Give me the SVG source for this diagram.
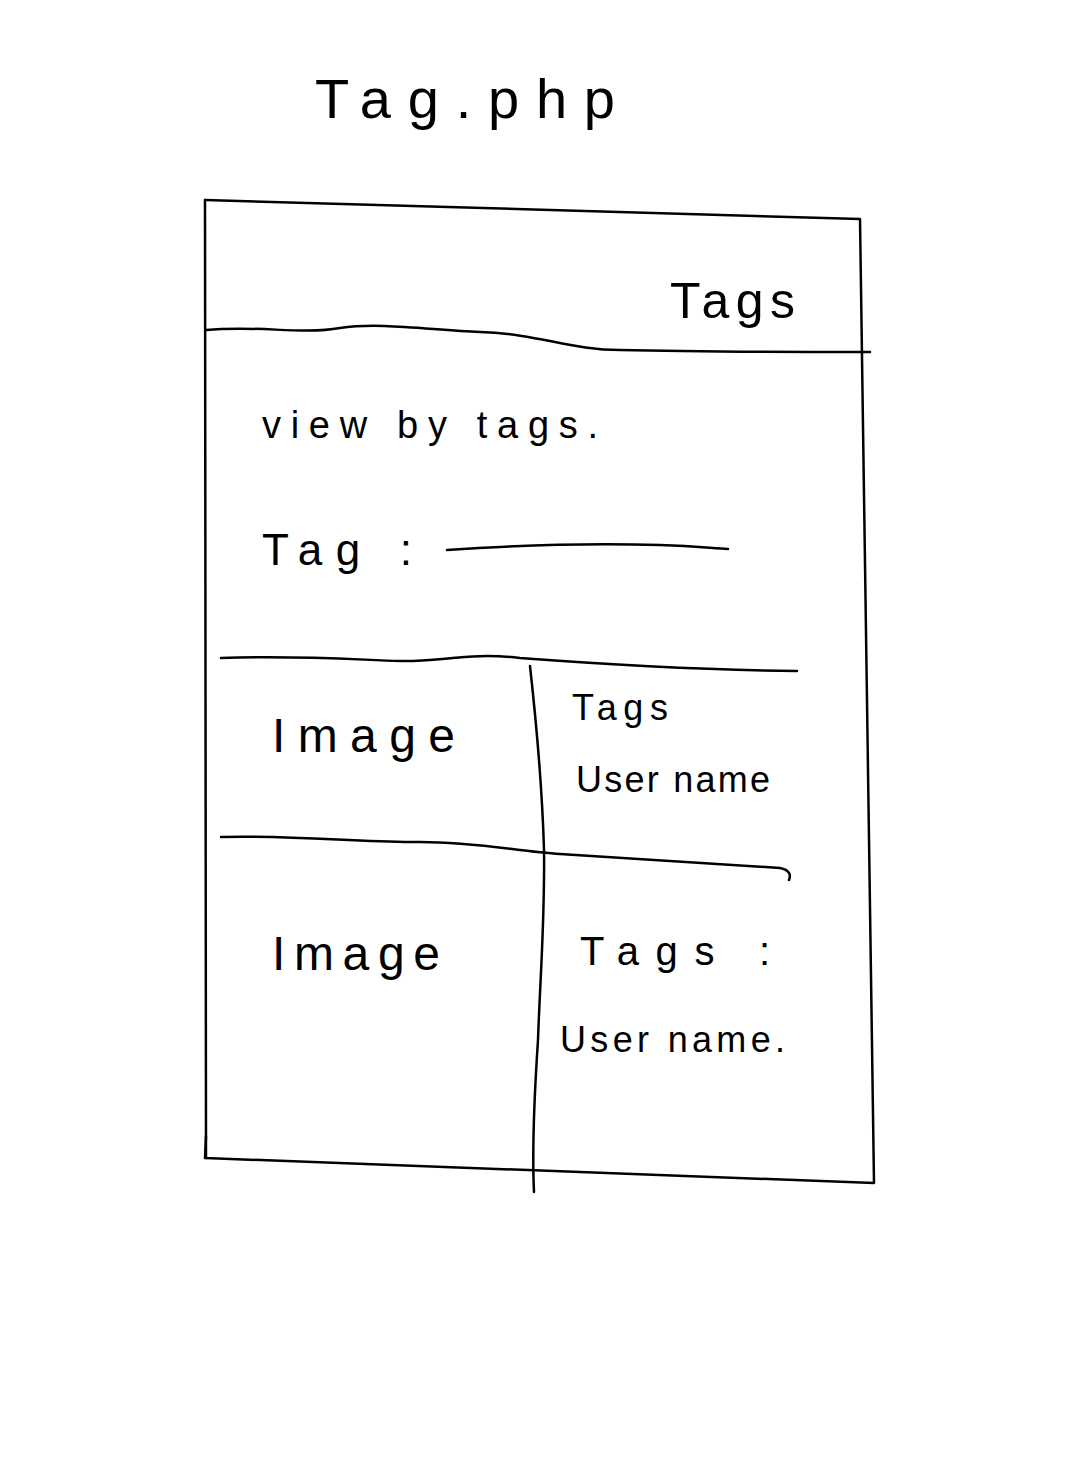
<svg xmlns="http://www.w3.org/2000/svg" width="1090" height="1471" viewBox="0 0 1090 1471">
<style>
.ln{fill:none;stroke:#000;stroke-width:2.5;stroke-linecap:round;stroke-linejoin:round}
.t{font-family:"Liberation Sans","DejaVu Sans",sans-serif;fill:#000}
</style>
<rect width="1090" height="1471" fill="#fff"/>
<g id="title"><text class="t" x="315" y="118" font-size="56" textLength="300" lengthAdjust="spacing">Tag.php</text></g>
<g id="frame">
<path class="ln" d="M205 200 L860 219 L874 1183 L205 1158 L206 1136"/>
<path class="ln" d="M205 200 L206 1158"/>
</g>
<g id="header">
<path class="ln" d="M206 330 C260 325 300 335 340 328 C380 322 430 330 480 332 C540 334 570 350 620 350 C700 352 780 352 870 352"/>
<text class="t" x="670" y="318" font-size="50" textLength="125" lengthAdjust="spacing">Tags</text>
</g>
<g id="search">
<text class="t" x="262" y="438" font-size="38" textLength="336" lengthAdjust="spacing">view by tags.</text>
<text class="t" x="262" y="565" font-size="44" textLength="150" lengthAdjust="spacing">Tag :</text>
<path class="ln" d="M447 550 C520 545 600 543 660 545 C700 546 715 549 728 549"/>
</g>
<g id="grid">
<path class="ln" d="M221 658 C300 655 360 660 400 661 C440 662 470 652 520 658 C600 664 700 670 797 671"/>
<path class="ln" d="M530 666 C536 720 542 780 544 850 C545 920 540 980 538 1040 C534 1100 532 1150 534 1192"/>
<path class="ln" d="M221 837 C300 835 360 843 420 842 C480 842 520 852 560 854 C650 860 720 864 780 868 C790 870 791 875 789 880"/>
</g>
<g id="row1">
<text class="t" x="272" y="752" font-size="48" textLength="183" lengthAdjust="spacing">Image</text>
<text class="t" x="572" y="720" font-size="36" textLength="96" lengthAdjust="spacing">Tags</text>
<text class="t" x="576" y="792" font-size="36" textLength="194" lengthAdjust="spacing">User name</text>
</g>
<g id="row2">
<text class="t" x="272" y="970" font-size="48" textLength="168" lengthAdjust="spacing">Image</text>
<text class="t" x="580" y="965" font-size="40" textLength="190" lengthAdjust="spacing">Tags :</text>
<text class="t" x="560" y="1052" font-size="36" textLength="225" lengthAdjust="spacing">User name.</text>
</g>
</svg>
